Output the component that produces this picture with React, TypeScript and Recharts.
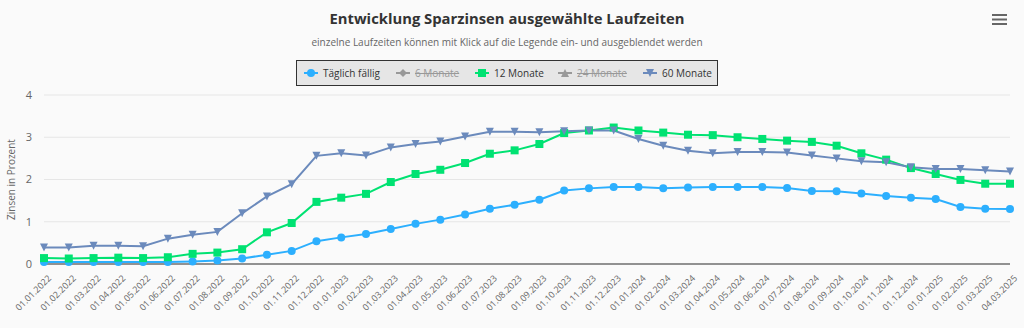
import { LineChart, Line, XAxis, YAxis, CartesianGrid } from "recharts";

const dates = [
    "01.01.2022", "01.02.2022", "01.03.2022", "01.04.2022", "01.05.2022", "01.06.2022",
    "01.07.2022", "01.08.2022", "01.09.2022", "01.10.2022", "01.11.2022", "01.12.2022",
    "01.01.2023", "01.02.2023", "01.03.2023", "01.04.2023", "01.05.2023", "01.06.2023",
    "01.07.2023", "01.08.2023", "01.09.2023", "01.10.2023", "01.11.2023", "01.12.2023",
    "01.01.2024", "01.02.2024", "01.03.2024", "01.04.2024", "01.05.2024", "01.06.2024",
    "01.07.2024", "01.08.2024", "01.09.2024", "01.10.2024", "01.11.2024", "01.12.2024",
    "01.01.2025", "01.02.2025", "01.03.2025", "04.03.2025",
];

const taeglich = [
    0.05, 0.05, 0.05, 0.05, 0.05, 0.05, 0.06, 0.08, 0.13, 0.22, 0.31, 0.54,
    0.63, 0.71, 0.83, 0.95, 1.05, 1.17, 1.31, 1.40, 1.52, 1.74, 1.79, 1.82,
    1.82, 1.79, 1.81, 1.82, 1.82, 1.82, 1.80, 1.73, 1.72, 1.67, 1.61, 1.57,
    1.54, 1.35, 1.31, 1.30,
];

const monate12 = [
    0.14, 0.13, 0.14, 0.15, 0.14, 0.16, 0.24, 0.27, 0.35, 0.75, 0.97, 1.47,
    1.57, 1.66, 1.94, 2.13, 2.23, 2.39, 2.61, 2.69, 2.84, 3.10, 3.16, 3.23,
    3.16, 3.11, 3.06, 3.05, 3.00, 2.96, 2.92, 2.89, 2.80, 2.62, 2.47, 2.27,
    2.13, 1.99, 1.90, 1.90,
];

const monate60 = [
    0.39, 0.39, 0.43, 0.43, 0.42, 0.60, 0.69, 0.76, 1.20, 1.60, 1.89, 2.56,
    2.62, 2.57, 2.76, 2.84, 2.90, 3.02, 3.13, 3.13, 3.12, 3.14, 3.16, 3.16,
    2.96, 2.80, 2.68, 2.62, 2.65, 2.65, 2.64, 2.57, 2.50, 2.43, 2.41, 2.29,
    2.25, 2.25, 2.22, 2.19,
];

const yTicks = [0, 1, 2, 3, 4];

// legend entries, hidden ones are greyed out and struck through
const legendItems = [
    { name: "Täglich fällig", color: "#2caffe", symbol: "circle", hidden: false },
    { name: "6 Monate", color: "#544fc5", symbol: "diamond", hidden: true },
    { name: "12 Monate", color: "#00e272", symbol: "square", hidden: false },
    { name: "24 Monate", color: "#fe6a35", symbol: "triangle", hidden: true },
    { name: "60 Monate", color: "#6b8abc", symbol: "triangle-down", hidden: false },
];

const data = dates.map((d, i) => ({
    datum: d,
    taeglich: taeglich[i],
    monate12: monate12[i],
    monate60: monate60[i],
}));

const FONT = "'Open Sans', 'Noto Sans', sans-serif";

function marker(symbol: string, cx: number, cy: number, color: string, key?: any) {
    if (symbol === "square") {
        return <rect key={key} x={cx - 4} y={cy - 4} width={8} height={8} fill={color} />;
    }
    if (symbol === "diamond") {
        return <path key={key} d={`M${cx},${cy - 4}L${cx + 4},${cy}L${cx},${cy + 4}L${cx - 4},${cy}Z`} fill={color} />;
    }
    if (symbol === "triangle") {
        return <path key={key} d={`M${cx},${cy - 4}L${cx + 4},${cy + 4}L${cx - 4},${cy + 4}Z`} fill={color} />;
    }
    if (symbol === "triangle-down") {
        return <path key={key} d={`M${cx - 4},${cy - 4}L${cx + 4},${cy - 4}L${cx},${cy + 4}Z`} fill={color} />;
    }
    return <circle key={key} cx={cx} cy={cy} r={4} fill={color} />;
}

const makeDot = (symbol: string, color: string) => (props: any) =>
    marker(symbol, props.cx, props.cy, color, `${symbol}-${props.index}`);

function XTick(props: any) {
    const { x, y, payload } = props;
    return (
        <g transform={`translate(${x + 5},${y + 4})`}>
            <text x={0} y={0} dy={4} textAnchor="end" transform="rotate(-45)" fontSize={9} fill="#666666" fontFamily={FONT}>
                {payload.value}
            </text>
        </g>
    );
}

// x offsets of legend items inside the box
const legendOffsets = [7, 99, 178, 261, 346];

function Legend() {
    return (
        <div
            style={{
                position: "absolute", left: 296, top: 60, width: 420, height: 24,
                background: "#e6e6e6", border: "1px solid #333",
                fontFamily: FONT, fontSize: 10, whiteSpace: "nowrap",
            }}
        >
            {legendItems.map((it, i) => {
                const c = it.hidden ? "#999" : it.color;
                return (
                    <div key={it.name} style={{ position: "absolute", left: legendOffsets[i], top: 0, height: 24, display: "flex", alignItems: "center", gap: 5 }}>
                        <svg width={14} height={10} style={{ flexShrink: 0 }}>
                            <line x1={0} x2={14} y1={5} y2={5} stroke={c} strokeWidth={2} />
                            {marker(it.symbol, 7, 5, c)}
                        </svg>
                        <span style={{ color: it.hidden ? "#999" : "#333", textDecoration: it.hidden ? "line-through" : "none" }}>
                            {it.name}
                        </span>
                    </div>
                );
            })}
        </div>
    );
}

export default function App() {
    return (
        <div style={{ position: "absolute", left: 0, top: 0, width: 1024, height: 328, background: "#fafafa", fontFamily: FONT }}>
            <div style={{ position: "absolute", top: 8, left: 0, width: 1014, textAlign: "center", fontSize: 14.8, fontWeight: 700, color: "#333" }}>
                Entwicklung Sparzinsen ausgewählte Laufzeiten
            </div>
            <div style={{ position: "absolute", top: 35, left: 0, width: 1014, textAlign: "center", fontSize: 10, color: "#666" }}>
                einzelne Laufzeiten können mit Klick auf die Legende ein- und ausgeblendet werden
            </div>
            <svg style={{ position: "absolute", left: 992, top: 14 }} width={16} height={12}>
                <rect x={0} y={0} width={15} height={2} fill="#666" />
                <rect x={0} y={4.5} width={15} height={2} fill="#666" />
                <rect x={0} y={9} width={15} height={2} fill="#666" />
            </svg>
            <Legend />
            <div style={{ position: "absolute", left: 0, top: 0 }}>
                <LineChart width={1024} height={328} data={data} margin={{ top: 95, right: 14, bottom: 0, left: 0 }}>
                    <CartesianGrid vertical={false} stroke="#e6e6e6" />
                    <XAxis
                        dataKey="datum"
                        interval={0}
                        height={64}
                        tick={<XTick />}
                        tickLine={false}
                        axisLine={{ stroke: "#333", strokeWidth: 1 }}
                    />
                    <YAxis
                        width={44}
                        domain={[0, 4]}
                        ticks={yTicks}
                        axisLine={false}
                        tickLine={false}
                        tickMargin={6}
                        tick={{ fontSize: 11, fill: "#666", fontFamily: FONT }}
                        label={{ value: "Zinsen in Prozent", angle: -90, position: "insideLeft", offset: 11, style: { fontSize: 10, fill: "#666", fontFamily: FONT, textAnchor: "middle" } }}
                    />
                    <Line type="linear" dataKey="taeglich" stroke="#2caffe" strokeWidth={2} dot={makeDot("circle", "#2caffe")} activeDot={false} isAnimationActive={false} />
                    <Line type="linear" dataKey="monate12" stroke="#00e272" strokeWidth={2} dot={makeDot("square", "#00e272")} activeDot={false} isAnimationActive={false} />
                    <Line type="linear" dataKey="monate60" stroke="#6b8abc" strokeWidth={2} dot={makeDot("triangle-down", "#6b8abc")} activeDot={false} isAnimationActive={false} />
                </LineChart>
            </div>
        </div>
    );
}
